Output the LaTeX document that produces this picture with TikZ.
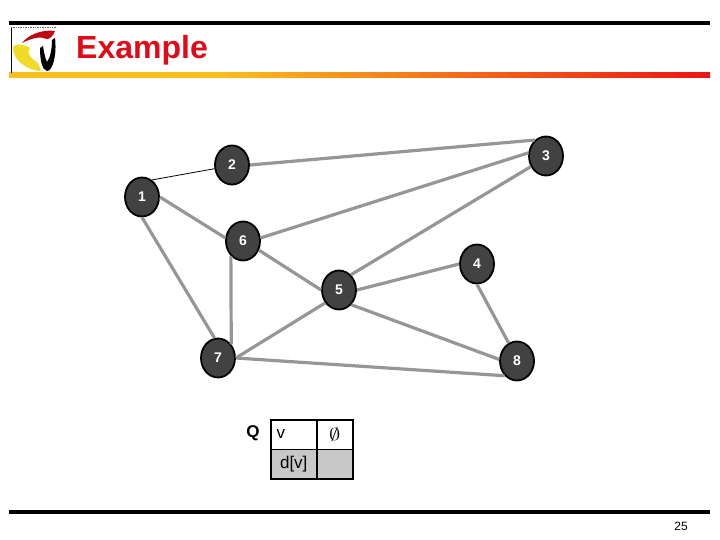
\documentclass[tikz,border=0pt]{standalone}
\usepackage{fontspec}
\setmainfont{Liberation Sans}
\usetikzlibrary{shapes.geometric}
\definecolor{slideRed}{RGB}{226,10,22}
\definecolor{slideGold}{RGB}{250,190,30}
\definecolor{slideEnd}{RGB}{236,20,20}
\definecolor{slideYellow}{RGB}{240,220,40}
\definecolor{nodeFill}{RGB}{66,66,66}
\definecolor{edgeGray}{RGB}{150,150,150}
\definecolor{cellGray}{RGB}{200,200,200}
\pgfdeclarehorizontalshading{barshade}{100bp}{color(0bp)=(slideGold); color(40bp)=(slideGold); color(75bp)=(slideEnd); color(100bp)=(slideEnd)}
\tikzset{
  vertex/.style={ellipse, draw=black, line width=1.8pt, fill=nodeFill, text=white,
    minimum width=34pt, minimum height=39pt, inner sep=0pt,
    font=\bfseries\fontsize{14}{16}\selectfont},
  edge/.style={draw=edgeGray, line width=3.2pt},
  thinedge/.style={draw=black, line width=.8pt},
  cell/.style={draw=black, line width=1.5pt, minimum height=29.5pt, inner sep=0pt,
    font=\fontsize{17}{19}\selectfont},
  rulebar/.style={fill=black, draw=none}
}
\begin{document}
\begin{tikzpicture}[x=1pt,y=-1pt]
\useasboundingbox (0,0) rectangle (720,540);

% header
\fill[rulebar] (9,21) rectangle (710,25);
\fill[rulebar] (9,510) rectangle (710,514);
\shade[shading=barshade, draw=none] (9,73) rectangle (710,78);
\node[anchor=base west, text=slideRed, inner sep=0pt, font=\bfseries\fontsize{32}{36}\selectfont] (title) at (76,59) {Example};
\node[inner sep=0pt, font=\fontsize{12}{14}\selectfont] (page) at (681,526) {25};

% logo
\draw[black!70!blue, line width=.7pt] (11,73) -- (11,27);
\draw[black!60, line width=.7pt, densely dotted] (11,27) -- (56,27);
\fill[slideRed!85!black] (22,43) .. controls (28,35) and (42,29) .. (55,31)
  .. controls (53,36) and (50,39) .. (47,39) .. controls (40,36) and (32,38) .. (22,43) -- cycle;
\fill[slideYellow] (13,47) .. controls (15,44) and (22,43) .. (30,48)
  .. controls (26,52) and (30,58) .. (38,63) -- (41,71)
  .. controls (28,71) and (12,60) .. (13,47) -- cycle;
\fill[black] (40,48) .. controls (40,60) and (42,70) .. (47,71)
  .. controls (53,71) and (57,54) .. (55,38) -- (52,40)
  .. controls (52,50) and (50,58) .. (47,62) .. controls (45,58) and (44,52) .. (43,46) -- cycle;

% graph
\node[vertex] (n1) at (142,197) {1};
\node[vertex] (n2) at (232,165) {2};
\node[vertex] (n3) at (546,156) {3};
\node[vertex] (n4) at (477,264) {4};
\node[vertex] (n5) at (339,290) {5};
\node[vertex] (n6) at (243,241) {6};
\node[vertex] (n7) at (218,358) {7};
\node[vertex] (n8) at (517,361) {8};

\draw[thinedge] (n1.60) -- (n2.192);
\draw[edge] (n2.east) -- (n3.125);
\draw[edge] (n6.10) -- (n3.170);
\draw[edge] (n5.52) -- (n3.215);
\draw[edge] (n1.east) -- (n6.170);
\draw[edge] (n1.south) -- (n7.100);
\draw[edge] (n6.231) -- (n7.46);
\draw[edge] (n6.330) -- (n5.west);
\draw[edge] (n5.east) -- (n4.west);
\draw[edge] (n5.223) -- (n7.east);
\draw[edge] (n5.310) -- (n8.175);
\draw[edge] (n7.east) -- (n8.230);
\draw[edge] (n4.south) -- (n8.115);

% table
\node[font=\bfseries\fontsize{17}{19}\selectfont, inner sep=0pt] (qlabel) at (253,433) {Q};
\node[cell, fill=white, minimum width=46pt, anchor=north west] (cv) at (270,419) {\hspace*{-26pt}v};
\node[cell, fill=white, minimum width=36pt, anchor=north west] (cempty) at (316,419) {\scalebox{1.3}[1]{$\emptyset$}};
\node[cell, fill=cellGray, minimum width=46pt, anchor=north west] (cd) at (270,448.5) {d[v]};
\node[cell, fill=cellGray, minimum width=36pt, anchor=north west] (cdv) at (316,448.5) {};
\end{tikzpicture}
\end{document}
